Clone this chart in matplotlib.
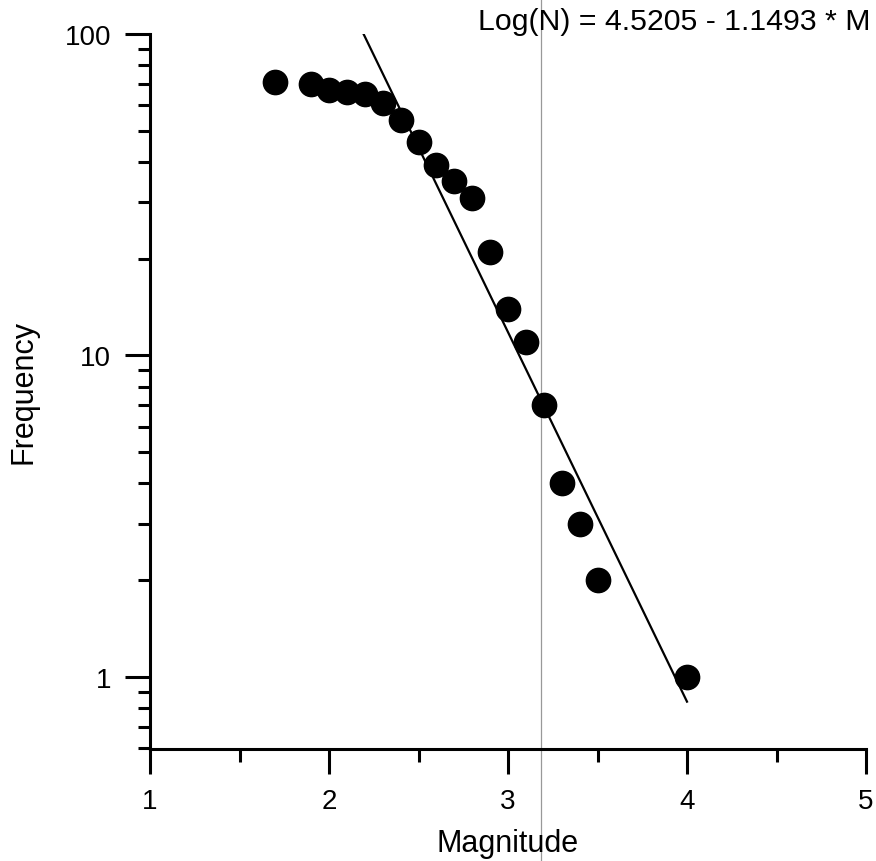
import matplotlib
matplotlib.use('Agg')
import matplotlib.pyplot as plt
import matplotlib.transforms as mtransforms
from matplotlib.ticker import LogLocator, MultipleLocator, FixedLocator, NullFormatter

plt.rcParams['font.family'] = ['Liberation Sans', 'DejaVu Sans']

# observed magnitude-frequency data
magnitude = [1.7, 1.9, 2.0, 2.1, 2.2, 2.3, 2.4, 2.5, 2.6, 2.7, 2.8, 2.9,
             3.0, 3.1, 3.2, 3.3, 3.4, 3.5, 4.0]
frequency = [71, 70, 67, 66, 65, 61, 54, 46, 39, 35, 31, 21,
             14, 11, 7, 4, 3, 2, 1]

# Gutenberg-Richter fit: log(N) = a - b * M
fit_a = 4.5205
fit_b = 1.1493
fit_range = [2.19, 4.0]
equation = 'Log(N) = 4.5205 - 1.1493 * M'

scan_line_x = 3.184   # thin grey line across the scanned figure

x_ticks = [1, 2, 3, 4, 5]
y_ticks = [1, 10, 100]

fig = plt.figure(figsize=(8.76, 8.62), dpi=100)
ax = fig.add_axes([150 / 876, 112 / 862, 716 / 876, 715 / 862])

fit_x = fit_range
fit_y = [10 ** (fit_a - fit_b * m) for m in fit_x]
ax.plot(fit_x, fit_y, color='black', lw=1.6, zorder=2)
ax.plot(magnitude, frequency, 'o', color='black', ms=17.5, zorder=3)

ax.set_yscale('log')
ax.set_xlim(1, 5)
ax.set_ylim(0.597, 100)

ax.xaxis.set_major_locator(FixedLocator(x_ticks))
ax.xaxis.set_minor_locator(MultipleLocator(0.5))
ax.yaxis.set_major_locator(FixedLocator(y_ticks))
ax.yaxis.set_minor_locator(LogLocator(base=10, subs=range(2, 10)))
ax.yaxis.set_minor_formatter(NullFormatter())
ax.set_yticklabels(['1', '10', '100'])

for side in ['top', 'right']:
    ax.spines[side].set_visible(False)
for side in ['left', 'bottom']:
    ax.spines[side].set_linewidth(2.2)

ax.tick_params(which='major', length=18, width=2.2, labelsize=20, pad=10)
ax.tick_params(which='minor', length=9, width=2.2)

ax.set_xlabel('Magnitude', fontsize=22, labelpad=10)
ax.set_ylabel('Frequency', fontsize=22, labelpad=19)

fig.text(870 / 876, 1 - 30 / 862, equation, ha='right', va='baseline',
         fontsize=21.8)

trans = mtransforms.blended_transform_factory(ax.transData, fig.transFigure)
ax.plot([scan_line_x, scan_line_x], [0, 1], transform=trans, color='#999999',
        lw=0.9, clip_on=False, zorder=1)

fig.savefig('out.png', dpi=100)
